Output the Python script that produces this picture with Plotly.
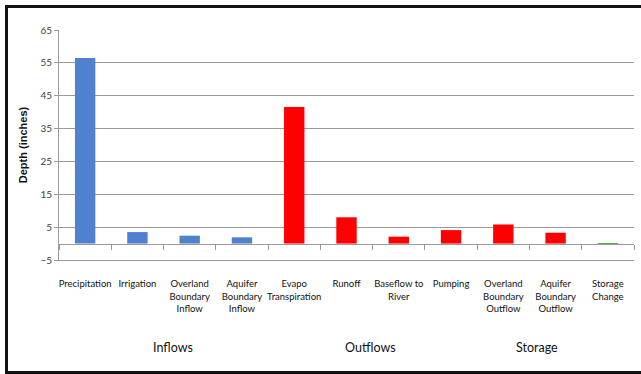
import plotly.graph_objects as go

categories = ["Precipitation", "Irrigation", "Overland<br>Boundary<br>Inflow",
              "Aquifer<br>Boundary<br>Inflow", "Evapo<br>Transpiration", "Runoff",
              "Baseflow to<br>River", "Pumping", "Overland<br>Boundary<br>Outflow",
              "Aquifer<br>Boundary<br>Outflow", "Storage<br>Change"]
depths = [56.5, 3.5, 2.4, 1.9, 41.6, 8.0, 2.1, 4.1, 5.8, 3.3, -0.4]
bar_colors = ["#4F81D0"] * 4 + ["#FF0000"] * 6 + ["#4CAF50"]
group_labels = ["Inflows", "Outflows", "Storage"]
group_pos = [0.198, 0.541, 0.831]
y_ticks = [-5, 5, 15, 25, 35, 45, 55, 65]

W, H = 641, 374
ml, mr, mt, mb = 59, 7, 30, 114
pw, ph = W - ml - mr, H - mt - mb

def px_x(p):
    return (p - ml) / pw

def px_y(p):
    return (H - mb - p) / ph

narrow = "Liberation Sans Narrow, Lato, sans-serif"
grid = "#9a9a9a"

fig = go.Figure()
fig.add_trace(go.Bar(x=categories, y=depths, marker=dict(color=bar_colors, line=dict(width=0)),
                     width=0.39, xaxis="x", yaxis="y", showlegend=False))
fig.add_trace(go.Scatter(x=categories, y=depths, mode="markers", marker=dict(opacity=0),
                         xaxis="x2", yaxis="y", showlegend=False, hoverinfo="skip"))

fig.update_layout(
    width=W, height=H,
    margin=dict(l=ml, r=mr, t=mt, b=mb),
    paper_bgcolor="white", plot_bgcolor="white",
    xaxis=dict(type="category", range=[-0.5, 10.5], showgrid=False, showline=True,
               linecolor=grid, linewidth=1, ticks="outside", ticklen=15,
               tickcolor="rgba(0,0,0,0)", tickangle=0,
               tickfont=dict(family=narrow, size=9.5, color="#111")),
    xaxis2=dict(type="category", overlaying="x", anchor="free", position=5 / 70,
                range=[-0.5, 10.5], showgrid=False, showline=True, linecolor=grid,
                linewidth=1, ticks="outside", tickson="boundaries", ticklen=5,
                tickcolor=grid, showticklabels=False),
    yaxis=dict(range=[-5, 65], tickmode="array", tickvals=y_ticks, showgrid=True,
               gridcolor=grid, gridwidth=1, zeroline=False, showline=True,
               linecolor=grid, ticks="outside", ticklen=4, tickcolor=grid,
               tickfont=dict(family=narrow, size=10, color="#404040"),
               title=dict(text="<b>Depth (inches)</b>", standoff=10,
                          font=dict(family="Liberation Sans, Arial, sans-serif", size=11,
                                    color="#111"))),
)

for lab, xp in zip(group_labels, group_pos):
    fig.add_annotation(text=lab, xref="paper", yref="paper", x=xp, y=px_y(347),
                       showarrow=False, xanchor="center", yanchor="middle",
                       font=dict(family=narrow, size=12.5, color="#111"))

frame = dict(color="#111", width=3)
fig.add_shape(type="line", xref="paper", yref="paper",
              x0=px_x(6.5), x1=px_x(641), y0=px_y(6.5), y1=px_y(6.5), line=frame)
fig.add_shape(type="line", xref="paper", yref="paper",
              x0=px_x(6.5), x1=px_x(641), y0=px_y(372.5), y1=px_y(372.5), line=frame)
fig.add_shape(type="line", xref="paper", yref="paper",
              x0=px_x(6.5), x1=px_x(6.5), y0=px_y(5), y1=px_y(374), line=frame)

fig.write_html("out.html")
